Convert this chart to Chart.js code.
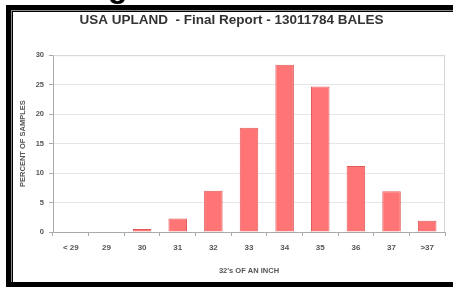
<!DOCTYPE html>
<html>
<head>
<meta charset="utf-8">
<script src="https://cdn.jsdelivr.net/npm/chart.js@4/dist/chart.umd.min.js"></script>
<style>
  html, body { margin:0; padding:0; background:#fff; width:453px; height:287px; overflow:hidden; }
  #wrap { position:absolute; left:0; top:0; width:453px; height:287px; overflow:hidden; }
  #frame { position:absolute; left:6px; top:5px; width:460px; height:272px; border:5px solid #000; border-right:none; box-shadow: inset 1px 1px 0 #888, inset 2px 2px 0 #000; pointer-events:none; }
  #fragclip { position:absolute; left:0; top:0; width:453px; height:5px; overflow:hidden; }
  #frag { position:absolute; left:108px; top:-29px; font: bold 32px "Liberation Sans", Arial, sans-serif; color:#000; line-height:30px; }
  canvas { position:absolute; left:0; top:0; }
</style>
</head>
<body>
<div id="wrap">
  <canvas id="c" width="453" height="287"></canvas>
  <div id="fragclip"><div id="frag">g</div></div>
  <div id="frame"></div>
</div>
<script>
const chartTitle = "USA UPLAND  - Final Report - 13011784 BALES";
const categories = ["< 29", "29", "30", "31", "32", "33", "34", "35", "36", "37", ">37"];
const percentValues = [0, 0.1, 0.5, 2.3, 7.0, 17.7, 28.4, 24.7, 11.2, 6.9, 1.9];
const yTicks = [0, 5, 10, 15, 20, 25, 30];
const xTitle = "32's OF AN INCH";
const yTitle = "PERCENT OF SAMPLES";

const font = "'Liberation Sans', Arial, sans-serif";
const tickColor = "#555";

const plotBorder = {
  id: 'plotBorder',
  beforeDatasetsDraw(chart) {
    const {ctx, chartArea:a} = chart;
    ctx.save();
    ctx.strokeStyle = '#d4d4d4';
    ctx.lineWidth = 1;
    ctx.beginPath();
    ctx.moveTo(a.left, a.top + 0.5);
    ctx.lineTo(a.right - 0.5, a.top + 0.5);
    ctx.lineTo(a.right - 0.5, a.bottom);
    ctx.stroke();
    ctx.restore();
  }
};

new Chart(document.getElementById('c'), {
  type: 'bar',
  data: {
    labels: categories,
    datasets: [{
      data: percentValues,
      backgroundColor: '#ff7474',
      borderColor: '#e05a5a',
      borderWidth: 1,
      barPercentage: 0.52,
      categoryPercentage: 1.0
    }]
  },
  options: {
    responsive: false,
    animation: false,
    devicePixelRatio: 1,
    layout: { padding: { left: 18, right: 8, top: 12, bottom: 12 } },
    plugins: {
      legend: { display: false },
      tooltip: { enabled: false },
      title: {
        display: true,
        text: chartTitle,
        color: '#333',
        font: { family: font, size: 13.5, weight: 'bold', lineHeight: 1.2 },
        padding: { top: 0, bottom: 27 }
      }
    },
    scales: {
      x: {
        grid: { display: true, drawOnChartArea: false, offset: true, color: '#aaa', tickLength: 4, tickColor: '#aaa' },
        border: { color: '#aaa' },
        ticks: { color: tickColor, font: { family: font, size: 8, weight: 'bold' }, maxRotation: 0, padding: 7 },
        title: { display: true, text: xTitle, color: tickColor, font: { family: font, size: 7.5, weight: 'bold' }, padding: { top: 3, bottom: 0 } },
        afterFit(s) { s.height = 43; }
      },
      y: {
        min: 0, max: 30,
        afterBuildTicks(s) { s.ticks = yTicks.map(v => ({ value: v })); },
        grid: { color: '#e6e6e6', tickColor: '#aaa', tickLength: 4 },
        border: { color: '#aaa' },
        ticks: { color: tickColor, font: { family: font, size: 7.5, weight: 'bold' }, padding: 5 },
        title: { display: true, text: yTitle, color: tickColor, font: { family: font, size: 7.5, weight: 'bold' }, padding: { top: 0, bottom: 4 } },
        afterFit(s) { s.width = 35; }
      }
    }
  },
  plugins: [plotBorder]
});
</script>
</body>
</html>
